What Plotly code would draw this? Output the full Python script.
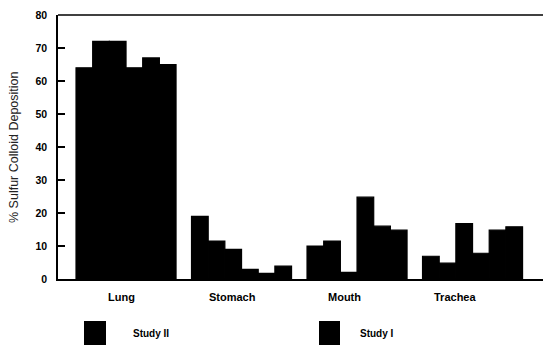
import plotly.graph_objects as go

# ---- data ----
categories = ["Lung", "Stomach", "Mouth", "Trachea"]
study_ii_1 = [64, 19, 10, 6.9]
study_ii_2 = [72, 11.5, 11.5, 4.8]
study_ii_3 = [72, 9, 2, 16.8]
study_i_1 = [64, 2.9, 24.8, 7.8]
study_i_2 = [67, 1.7, 16, 14.8]
study_i_3 = [65, 3.9, 14.8, 15.8]
y_ticks = [0, 10, 20, 30, 40, 50, 60, 70, 80]
legend_names = ["Study II", "Study I"]

FONT = "Liberation Sans, Arial, Helvetica, sans-serif"
W, H = 543, 345
L, R, T, B = 58, 0, 15, 66
PW, PH = W - L - R, H - T - B

def px_x(px):
    return (px - L) / PW

def px_y(py):
    return 1 - (py - T) / PH

fig = go.Figure()
series = [
    ("Study II", study_ii_1), ("Study II", study_ii_2), ("Study II", study_ii_3),
    ("Study I", study_i_1), ("Study I", study_i_2), ("Study I", study_i_3),
]
for name, vals in series:
    fig.add_trace(go.Bar(
        x=categories, y=vals, name=name, showlegend=False,
        marker=dict(color="#000000", line=dict(width=1.2, color="#000000")),
    ))

fig.update_layout(
    width=W, height=H,
    margin=dict(l=L, r=R, t=T, b=B, pad=0),
    paper_bgcolor="white", plot_bgcolor="white",
    barmode="group", bargap=0.134, bargroupgap=0,
    font=dict(family=FONT, color="#000000"),
    xaxis=dict(
        type="category", range=[-0.589, 3.61],
        showticklabels=False, ticks="", showgrid=False, zeroline=False,
        showline=True, linecolor="#000000", linewidth=1.5,
    ),
    yaxis=dict(
        range=[0, 80], tickvals=y_ticks, ticks="inside", ticklen=7,
        tickwidth=1.5, tickcolor="#000000",
        showgrid=False, zeroline=False,
        showline=True, linecolor="#000000", linewidth=1.5,
        tickfont=dict(family=FONT, size=10.5, color="#000000", weight="bold"),
        ticklabelstandoff=7,
    ),
)

# top frame line
fig.add_shape(type="line", xref="paper", yref="paper", x0=0, x1=1, y0=1, y1=1,
              line=dict(color="#000000", width=1.5))

# y axis title
fig.add_annotation(text="% Sulfur Colloid Deposition", xref="paper", yref="paper",
                   x=px_x(14), y=px_y(147), textangle=-90, showarrow=False,
                   xanchor="center", yanchor="middle",
                   font=dict(family=FONT, size=12.5, color="#222222"))

# category labels
label_px = [121.7, 232, 344.7, 455]
for cat, lx in zip(categories, label_px):
    fig.add_annotation(text=cat, xref="paper", yref="paper", x=px_x(lx), y=px_y(297),
                       showarrow=False, xanchor="center", yanchor="middle",
                       font=dict(family=FONT, size=11, color="#000000", weight="bold"))

# legend (boxes + labels)
legend_box_px = [(84, 106), (319, 340)]
legend_text_px = [131, 358]
for name, (bx0, bx1), tx in zip(legend_names, legend_box_px, legend_text_px):
    fig.add_shape(type="rect", xref="paper", yref="paper",
                  x0=px_x(bx0), x1=px_x(bx1), y0=px_y(321), y1=px_y(346),
                  fillcolor="#000000", line=dict(width=0))
    fig.add_annotation(text=name, xref="paper", yref="paper", x=px_x(tx), y=px_y(333),
                       showarrow=False, xanchor="left", yanchor="middle",
                       font=dict(family=FONT, size=10, color="#000000", weight="bold"))

fig.write_html("out.html", config={"displayModeBar": False},
               post_script="document.body.style.margin='0';document.body.style.overflow='hidden';")
